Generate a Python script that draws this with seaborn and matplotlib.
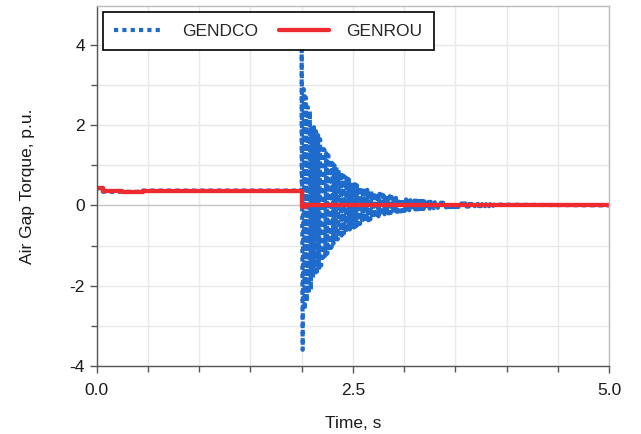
import numpy as np
import pandas as pd
import matplotlib
matplotlib.use("Agg")
import matplotlib.pyplot as plt
import seaborn as sns
from matplotlib.ticker import MultipleLocator, FormatStrFormatter

# GENROU air gap torque (step values, p.u.)
genrou_t = [0.0, 0.06, 0.25, 0.45, 2.0, 2.03, 2.18, 5.0]
genrou_v = [0.44, 0.36, 0.33, 0.37, -0.03, 0.02, 0.0, 0.0]

# GENDCO pre-fault part (hidden mostly behind GENROU)
dco_pre_t = [0.0, 0.06, 0.06, 0.45, 0.45, 2.0]
dco_pre_v = [0.43, 0.43, 0.34, 0.34, 0.37, 0.37]

# GENDCO oscillation peaks after the fault, one every 0.01 s from 2.00 to 3.90
dco_osc_v = [
    4.30, -3.60, 2.90, -2.60, 2.70, -2.40, 2.45, -2.20, 2.35, -2.10,
    2.00, -1.80, 1.95, -1.75, 1.85, -1.65, 1.75, -1.60, 1.65, -1.50,
    1.40, -1.30, 1.40, -1.25, 1.30, -1.20, 1.25, -1.15, 1.15, -1.05,
    1.05, -0.95, 1.00, -0.90, 0.95, -0.85, 0.90, -0.80, 0.82, -0.75,
    0.75, -0.70, 0.72, -0.68, 0.68, -0.64, 0.65, -0.60, 0.60, -0.58,
    0.55, -0.55, 0.53, -0.52, 0.50, -0.48, 0.48, -0.46, 0.45, -0.43,
    0.42, -0.40, 0.41, -0.39, 0.39, -0.37, 0.37, -0.35, 0.35, -0.33,
    0.32, -0.30, 0.31, -0.29, 0.30, -0.27, 0.29, -0.26, 0.27, -0.24,
    0.25, -0.22, 0.25, -0.21, 0.24, -0.20, 0.23, -0.19, 0.21, -0.18,
    0.20, -0.17, 0.19, -0.16, 0.18, -0.15, 0.17, -0.15, 0.16, -0.14,
    0.15, -0.13, 0.15, -0.12, 0.14, -0.12, 0.13, -0.11, 0.13, -0.11,
    0.12, -0.10, 0.12, -0.10, 0.11, -0.09, 0.11, -0.09, 0.11, -0.09,
    0.10, -0.08, 0.10, -0.08, 0.09, -0.08, 0.09, -0.07, 0.09, -0.07,
    0.08, -0.06, 0.08, -0.06, 0.08, -0.05, 0.07, -0.05, 0.07, -0.05,
    0.07, -0.05, 0.07, -0.04, 0.06, -0.04, 0.06, -0.04, 0.06, -0.04,
    0.06, -0.04, 0.05, -0.04, 0.05, -0.03, 0.05, -0.03, 0.05, -0.03,
    0.05, -0.03, 0.04, -0.03, 0.04, -0.03, 0.04, -0.03, 0.04, -0.02,
    0.04, -0.02, 0.04, -0.02, 0.03, -0.02, 0.03, -0.02, 0.03, -0.02,
    0.03, -0.02, 0.03, -0.02, 0.03, -0.01, 0.03, -0.01, 0.02, -0.01,
    0.02,
]
dco_osc_t = list(np.round(np.arange(len(dco_osc_v)) * 0.01 + 2.0, 3))
dco_post_t = [5.0]
dco_post_v = [0.0]

BLUE = "#1F6BCB"
RED = "#EE2A2E"

sns.set_style("white")
plt.rcParams["font.family"] = ["Liberation Sans", "DejaVu Sans"]
plt.rcParams["axes.unicode_minus"] = False

fig = plt.figure(figsize=(6.41, 4.34), dpi=100)
ax = fig.add_axes([0.151, 0.157, 0.799, 0.829])

dco_df = pd.DataFrame({
    "t": dco_pre_t + dco_osc_t + dco_post_t,
    "v": dco_pre_v + dco_osc_v + dco_post_v,
})
rou_df = pd.DataFrame({"t": genrou_t, "v": genrou_v})

sns.lineplot(data=dco_df, x="t", y="v", ax=ax, estimator=None, sort=False,
             color=BLUE, linestyle=(0, (1, 1.0)), linewidth=3.0, label="GENDCO")
sns.lineplot(data=rou_df, x="t", y="v", ax=ax, estimator=None,
             drawstyle="steps-post", color=RED, linewidth=3.1, label="GENROU")

ax.set_xlim(0, 5)
ax.set_ylim(-4, 4.97)
ax.xaxis.set_major_locator(MultipleLocator(2.5))
ax.xaxis.set_minor_locator(MultipleLocator(0.5))
ax.yaxis.set_major_locator(MultipleLocator(2))
ax.yaxis.set_minor_locator(MultipleLocator(1))
ax.xaxis.set_major_formatter(FormatStrFormatter("%.1f"))

ax.grid(True, which="both", color="#e8e8e8", linewidth=1.0)
ax.axhline(0, color="#c8c8c8", linewidth=1.0, zorder=1)
ax.set_axisbelow(True)

for side in ["left", "bottom"]:
    ax.spines[side].set_color("#555555")
    ax.spines[side].set_linewidth(1.0)
for side in ["top", "right"]:
    ax.spines[side].set_color("#bbbbbb")
    ax.spines[side].set_linewidth(1.0)

ax.tick_params(which="major", direction="out", length=5, width=1, color="#555555",
               labelsize=12.5, labelcolor="#1a1a1a", bottom=True, left=True)
ax.tick_params(axis="x", which="major", pad=7)
ax.tick_params(which="minor", direction="out", length=4, width=1, color="#555555",
               bottom=True, left=True)

ax.set_xlabel("Time, s", fontsize=12.5, color="#1a1a1a", labelpad=13)
ax.set_ylabel("Air Gap Torque, p.u.", fontsize=12.5, color="#1a1a1a", labelpad=25)

leg = ax.legend(loc="upper left", ncol=2, fontsize=12.5, frameon=True, fancybox=False,
                edgecolor="black", borderaxespad=0.35, handlelength=2.9,
                handletextpad=1.0, columnspacing=1.2, borderpad=0.65)
leg.get_frame().set_linewidth(1.2)
leg.get_frame().set_alpha(1)

fig.savefig("out.png", dpi=100)
